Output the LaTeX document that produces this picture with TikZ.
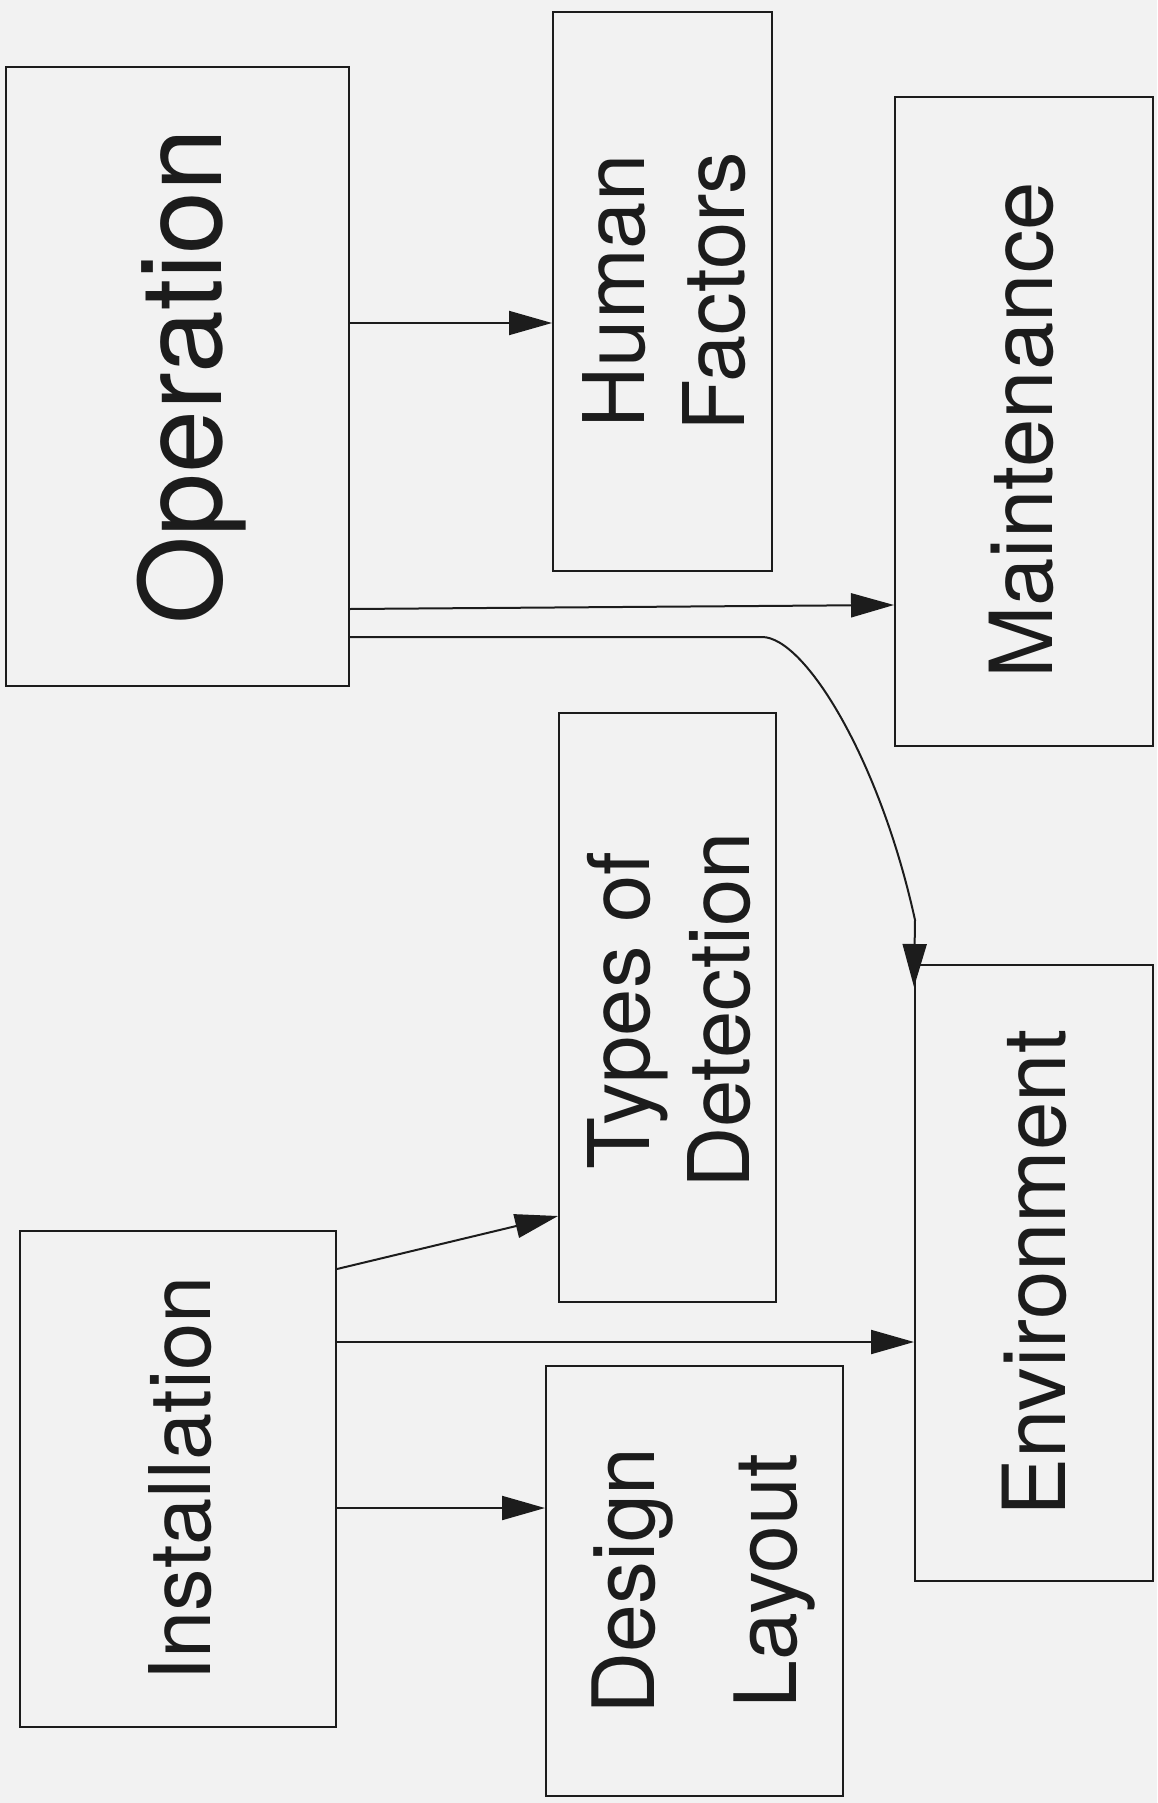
\documentclass[tikz,border=0pt]{standalone}
\usepackage{fontspec}
\setmainfont{TeX Gyre Heros}
\usepackage{graphicx}
\usetikzlibrary{arrows.meta}
\definecolor{paper}{HTML}{F2F2F2}
\definecolor{ink}{HTML}{1C1C1C}
\newcommand{\vlabel}[1]{\rotatebox{90}{\begin{tabular}{@{}c@{}}#1\end{tabular}}}

\begin{document}
\begin{tikzpicture}[x=1pt, y=-1pt,
  box/.style={draw=ink, line width=2pt, inner sep=0pt},
  arr/.style={draw=ink, line width=2pt, -{Triangle[length=43pt,width=24pt]}},
  big/.style={text=ink, inner sep=0pt, font=\fontsize{113}{136}\selectfont},
  lbl/.style={text=ink, inner sep=0pt, font=\fontsize{85}{100}\selectfont},
  wide/.style={text=ink, inner sep=0pt, font=\fontsize{87}{100}\selectfont}]
  \fill[paper] (0,0) rectangle (1157,1803);
  \useasboundingbox (0,0) rectangle (1157,1803);

  % Operation side
  \node[box, minimum width=343pt, minimum height=619pt] (op) at (177.5,376.5) {};
  \node[big] (opTxt) at ([xshift=17pt]op.center) {\vlabel{Operation}};
  \node[box, minimum width=219pt, minimum height=559pt] (hf) at (662.5,291.5) {};
  \node[lbl] (hfTxt) at ([xshift=12pt]hf.center) {\vlabel{Human\\Factors}};
  \node[box, minimum width=258pt, minimum height=649pt] (mt) at (1024,421.5) {};
  \node[wide] (mtTxt) at ([xshift=8pt,yshift=-9pt]mt.center) {\vlabel{Maintenance}};

  % Installation side
  \node[box, minimum width=217pt, minimum height=589pt] (td) at (667.5,1007.5) {};
  \node[lbl] (tdTxt) at ([xshift=12pt,yshift=-3pt]td.center) {\vlabel{Types of\\Detection}};
  \node[box, minimum width=238pt, minimum height=616pt] (env) at (1034,1273) {};
  \node[wide] (envTxt) at ([xshift=11pt]env.center) {\vlabel{Environment}};
  \node[box, minimum width=316pt, minimum height=496pt] (inst) at (178,1479) {};
  \node[lbl] (instTxt) at ([xshift=12pt]inst.center) {\vlabel{Installation}};
  \node[box, minimum width=297pt, minimum height=430pt] (dl) at (694.5,1581) {};
  \node[lbl, font=\fontsize{86}{142}\selectfont] (dlTxt) at ([xshift=3pt]dl.center) {\vlabel{Design\\Layout}};

  % Arrows from Operation
  \draw[arr] (op.east |- 0,323) -- (hf.west |- 0,323);
  \draw[arr] (op.east |- 0,609) -- (mt.west |- 0,605);
  \draw[arr] (op.east |- 0,637) -- (762,637) .. controls (805,637) and (880,760) .. (915,920) -- ([yshift=-23pt]env.north west);

  % Arrows from Installation
  \draw[arr] (inst.east |- 0,1269) -- (td.west |- 0,1216);
  \draw[arr] (inst.east |- 0,1342) -- (env.west |- 0,1342);
  \draw[arr] (inst.east |- 0,1508) -- (dl.west |- 0,1508);
\end{tikzpicture}
\end{document}
